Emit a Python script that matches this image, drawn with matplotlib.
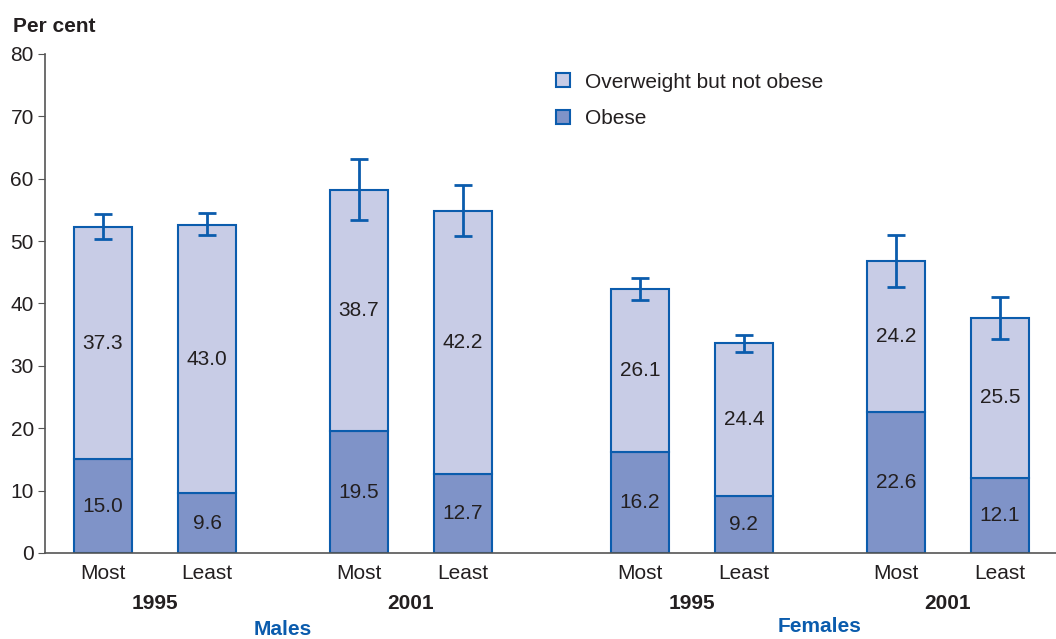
import numpy as np
import matplotlib.pyplot as plt
from matplotlib.patches import Patch
from matplotlib.transforms import blended_transform_factory

plt.rcParams['font.family'] = ['Liberation Sans', 'DejaVu Sans']

# data: males 1995, males 2001, females 1995, females 2001 (most / least deprived)
sexes = ['Males', 'Females']
years = ['1995', '2001', '1995', '2001']
bar_labels = ['Most', 'Least', 'Most', 'Least', 'Most', 'Least', 'Most', 'Least']
obese = [15.0, 9.6, 19.5, 12.7, 16.2, 9.2, 22.6, 12.1]
overweight = [37.3, 43.0, 38.7, 42.2, 26.1, 24.4, 24.2, 25.5]
ci_low = [50.3, 51.0, 53.4, 50.8, 40.5, 32.2, 42.6, 34.3]
ci_high = [54.3, 54.5, 63.1, 59.0, 44.1, 34.9, 51.0, 41.0]

light = '#c8cce6'
dark = '#7f93c8'
edge = '#0b5cad'
txt = '#231f20'
fs = 15

# bar positions: pairs, with gaps between years and a wider gap between sexes
x = np.array([0, 1, 2.46, 3.46, 5.16, 6.16, 7.62, 8.62])
width = 0.56

obese = np.array(obese)
overweight = np.array(overweight)
total = obese + overweight

fig = plt.figure(figsize=(10.56, 6.39), dpi=100)
ax = fig.add_axes([0.0426, 0.1346, 0.9574, 0.7809])

ax.bar(x, obese, width, color=dark, edgecolor=edge, linewidth=1.5)
ax.bar(x, overweight, width, bottom=obese, color=light, edgecolor=edge, linewidth=1.5)

err_low = total - np.array(ci_low)
err_high = np.array(ci_high) - total
ax.errorbar(x, total, yerr=[err_low, err_high], fmt='none', ecolor=edge,
            elinewidth=2, capsize=6.5, capthick=2)

for xi, ob, ov in zip(x, obese, overweight):
    ax.text(xi, ob / 2, f'{ob:.1f}', ha='center', va='center', fontsize=fs, color=txt)
    ax.text(xi, ob + ov / 2, f'{ov:.1f}', ha='center', va='center', fontsize=fs, color=txt)

ax.set_xlim(-0.558, 9.16)
ax.set_ylim(0, 80)
ax.set_yticks(np.arange(0, 81, 10))
ax.tick_params(axis='y', labelsize=fs, length=5, color='#555555', labelcolor=txt, pad=3)
ax.set_xticks(x)
ax.set_xticklabels(bar_labels)
ax.tick_params(axis='x', labelsize=fs, length=0, labelcolor=txt, pad=8)
for s in ['top', 'right']:
    ax.spines[s].set_visible(False)
for s in ['left', 'bottom']:
    ax.spines[s].set_color('#555555')
    ax.spines[s].set_linewidth(1.2)

trans = blended_transform_factory(ax.transData, ax.transAxes)
for i, yr in enumerate(years):
    xm = (x[2 * i] + x[2 * i + 1]) / 2
    ax.text(xm, -0.102, yr, transform=trans, ha='center', va='center',
            fontsize=fs, fontweight='bold', color=txt)
for i, sx in enumerate(sexes):
    xm = (x[4 * i] + x[4 * i + 3]) / 2
    ax.text(xm, -0.154 if i == 0 else -0.147, sx, transform=trans, ha='center', va='center',
            fontsize=fs, fontweight='bold', color=edge)

fig.text(0.012, 0.958, 'Per cent', fontsize=fs, fontweight='bold', color=txt, va='center')

handles = [Patch(facecolor=light, edgecolor=edge, linewidth=1.5, label='Overweight but not obese'),
           Patch(facecolor=dark, edgecolor=edge, linewidth=1.5, label='Obese')]
leg = ax.legend(handles=handles, loc='upper left', bbox_to_anchor=(0.487, 1.0),
                frameon=False, fontsize=fs, handlelength=0.65, handleheight=0.65,
                handletextpad=0.75, labelspacing=0.85)
for t in leg.get_texts():
    t.set_color(txt)

fig.savefig('out.png', dpi=100)
